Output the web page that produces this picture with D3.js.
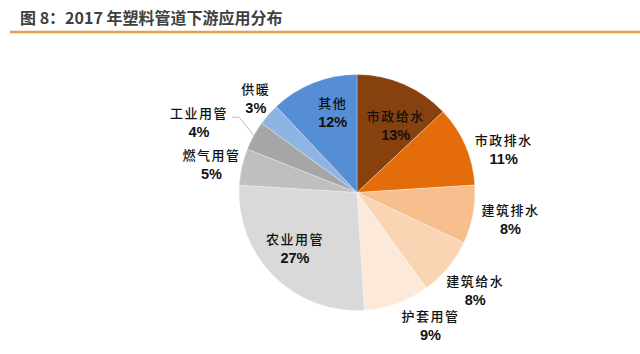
<!DOCTYPE html>
<html>
<head>
  <meta charset="utf-8">
  <script src="https://cdn.jsdelivr.net/npm/d3@7/dist/d3.min.js"></script>
  <style>
    body { margin: 0; background: #fff; }
    .lbl { font-family: "Noto Sans CJK SC", sans-serif; font-size: 13px; font-weight: 500; fill: #111; letter-spacing: 1.5px; }
    .pct { font-family: "Liberation Sans", Arial, sans-serif; font-size: 14.5px; font-weight: bold; fill: #111; }
  </style>
</head>
<body>
<svg id="chart" width="640" height="354"></svg>
<script>
  // 2017 plastic pipe downstream use, % share, clockwise from 12 o'clock
  var categories = ['市政给水', '市政排水', '建筑排水', '建筑给水', '护套用管', '农业用管', '燃气用管', '工业用管', '供暖', '其他'];
  var shares = [13, 11, 8, 8, 9, 27, 5, 4, 3, 12];
  var colors = ['#87410f', '#e46c0a', '#f8bf8e', '#fbd4b4', '#fde9d9', '#d9d9d9', '#bfbfbf', '#a6a6a6', '#8db4e2', '#558ed5'];
  var insideLabels = ['市政给水', '农业用管', '其他'];

  var svg = d3.select('#chart');

  // title + orange rule
  svg.append('text')
    .attr('x', 20).attr('y', 24)
    .style('font-family', '"Noto Sans CJK SC", sans-serif')
    .style('font-size', '16px').style('font-weight', 'bold')
    .style('fill', '#404040')
    .text('图 8：2017 年塑料管道下游应用分布');
  svg.append('line')
    .attr('x1', 10).attr('x2', 640).attr('y1', 32).attr('y2', 32)
    .attr('stroke', '#ed9c4f').attr('stroke-width', 2.5);

  var cx = 357, cy = 192.5, r = 118;
  var data = categories.map(function (c, i) { return { name: c, value: shares[i], color: colors[i] }; });

  var pie = d3.pie().sort(null).value(function (d) { return d.value; });
  var arcs = pie(data);
  var arc = d3.arc().innerRadius(0).outerRadius(r);

  var g = svg.append('g').attr('transform', 'translate(' + cx + ',' + cy + ')');

  g.selectAll('path.slice')
    .data(arcs)
    .enter()
    .append('path')
    .attr('class', 'slice')
    .attr('d', arc)
    .attr('fill', function (d) { return d.data.color; })
    .attr('stroke', '#fff')
    .attr('stroke-width', 0.3);

  // hand nudges so labels sit where excel's "best fit" put them
  var nudge = {
    '供暖': [13, 6], '工业用管': [7, 0], '燃气用管': [3, 5], '其他': [7, -2],
    '市政给水': [5, 10], '市政排水': [7, 17], '建筑排水': [4, -2], '农业用管': [-2, -5],
    '建筑给水': [1, 0], '护套用管': [1, -1]
  };

  function labelRadius(d) {
    if (insideLabels.indexOf(d.data.name) >= 0) return r * 0.72;
    if (d.data.name === '工业用管') return r * 1.52;
    return r * 1.29;
  }
  function labelPos(d) {
    var a = (d.startAngle + d.endAngle) / 2;
    var rr = labelRadius(d);
    if (d.data.name === '工业用管') a -= 0.1;
    if (d.data.name === '护套用管') a -= 0.15;
    var n = nudge[d.data.name] || [0, 0];
    return [Math.sin(a) * rr + n[0], -Math.cos(a) * rr + n[1]];
  }

  // leader line for the small 工业用管 slice
  arcs.forEach(function (d) {
    if (d.data.name !== '工业用管') return;
    var a = (d.startAngle + d.endAngle) / 2;
    var p0 = [Math.sin(a) * r * 0.99, -Math.cos(a) * r * 0.99];
    var p = labelPos(d);
    var p2 = [p[0] + 33, p[1] - 5];
    var p1 = [p2[0] + 7, p2[1]];
    g.append('polyline')
      .attr('points', [p2, p1, p0].map(function (q) { return q.join(','); }).join(' '))
      .attr('fill', 'none')
      .attr('stroke', '#9fbfdf')
      .attr('stroke-width', 1);
  });

  var labels = g.selectAll('g.label')
    .data(arcs)
    .enter()
    .append('g')
    .attr('class', 'label')
    .attr('transform', function (d) { return 'translate(' + labelPos(d) + ')'; });

  labels.append('text')
    .attr('class', 'lbl')
    .attr('text-anchor', 'middle')
    .attr('y', -4)
    .text(function (d) { return d.data.name; });

  labels.append('text')
    .attr('class', 'pct')
    .attr('text-anchor', 'middle')
    .attr('y', 15)
    .text(function (d) { return d.data.value + '%'; });
</script>
</body>
</html>
